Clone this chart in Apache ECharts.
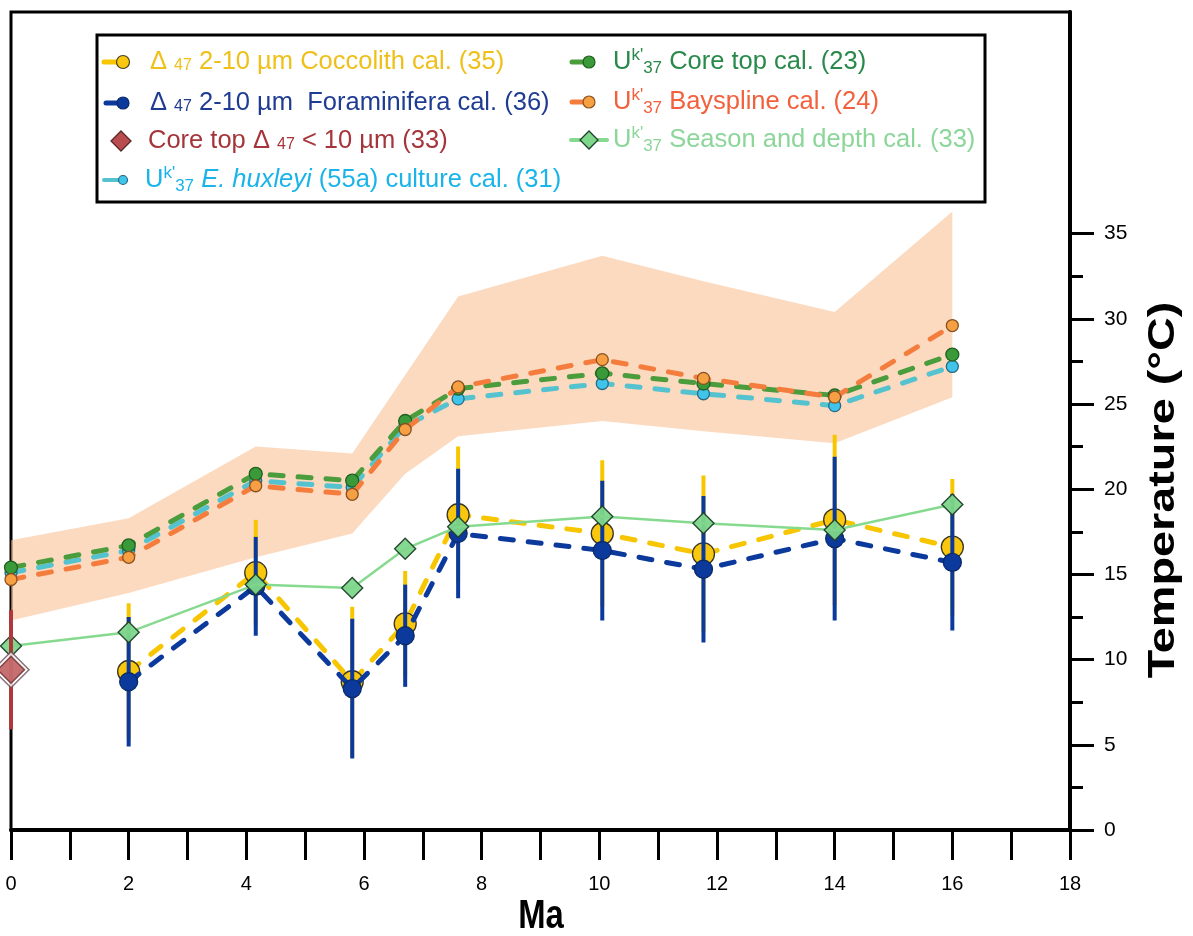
<!DOCTYPE html>
<html>
<head>
<meta charset="utf-8">
<script src="https://cdn.jsdelivr.net/npm/echarts@6/dist/echarts.min.js"></script>
<style>
  html, body { margin: 0; padding: 0; background: #fff; }
  #chart { width: 1193px; height: 936px; }
</style>
</head>
<body>
<div id="chart"></div>
<script>
// Ages (Ma) of the alkenone (Uk'37) samples
const ukAges = [0, 2, 4.16, 5.8, 6.7, 7.6, 10.05, 11.77, 14, 16];
// Uk'37 temperatures (°C) under different calibrations
const ukCoreTop = [15.4, 16.7, 20.9, 20.5, 24.0, 25.9, 26.8, 26.2, 25.5, 27.9];
const ukCulture = [15.1, 16.4, 20.5, 20.1, 23.7, 25.3, 26.2, 25.6, 24.9, 27.2];
const ukBayspline = [14.7, 16.0, 20.2, 19.7, 23.5, 26.0, 27.6, 26.5, 25.4, 29.6];
const ukSeasonDepth = [10.8, 11.6, 14.4, 14.2, 16.5, 17.8, 18.4, 18.0, 17.6, 19.1];
// Bayspline uncertainty envelope (°C)
const bandUpper = [17.0, 18.3, 22.5, 22.1, 26.7, 31.3, 33.7, 32.2, 30.4, 36.3];
const bandLower = [12.3, 13.9, 16.0, 17.4, 20.9, 23.1, 24.0, 23.4, 22.7, 25.4];

// Clumped isotope (Δ47) temperatures, 2-10 µm fraction
const d47Ages = [2, 4.16, 5.8, 6.7, 7.6, 10.05, 11.77, 14, 16];
const d47Cocco = [9.3, 15.1, 8.7, 12.1, 18.5, 17.4, 16.2, 18.2, 16.6];
const d47CoccoErr = [4.0, 3.1, 4.4, 3.1, 4.0, 4.3, 4.6, 5.0, 4.0];
const d47Foram = [8.7, 14.3, 8.3, 11.4, 17.4, 16.4, 15.3, 17.1, 15.7];
const d47ForamErr = [3.8, 2.9, 4.1, 3.0, 3.8, 4.1, 4.3, 4.8, 4.0];

// Core-top Δ47 (< 10 µm)
const coreTopAge = [0];
const coreTopD47 = [9.4];
const coreTopErr = [3.5];

// Axis ticks and labels
const xTickValues = [0, 1, 2, 3, 4, 5, 6, 7, 8, 9, 10, 11, 12, 13, 14, 15, 16, 17, 18];
const xLabelValues = [0, 2, 4, 6, 8, 10, 12, 14, 16, 18];
const yTickValues = [0, 5, 10, 15, 20, 25, 30, 35];
const yMinorTickValues = [2.5, 7.5, 12.5, 17.5, 22.5, 27.5, 32.5];

const FONT = "'Liberation Sans', Arial, sans-serif";

const C = {
  yellow: '#f7c600', yellowText: '#efc01a',
  navy: '#0c3a9c', navyText: '#1f3c93',
  red: '#b84c4f', redText: '#a5353a',
  cyan: '#55c3cf', cyanMark: '#3fc4ec', cyanText: '#1ab4e8',
  green: '#4a9c3c', greenMark: '#3a9a3a', greenText: '#28894a',
  orange: '#f47d3e', orangeMark: '#f6a043', orangeText: '#f2603c',
  lgreen: '#86da8f', lgreenMark: '#7ed68a', lgreenText: '#8cd69a',
  band: 'rgba(249, 188, 138, 0.55)'
};

const pairs = (xs, ys) => xs.map((x, i) => [x, ys[i]]);

function errorBars(xs, ys, errs, color, z) {
  return {
    type: 'custom', z: z, silent: true, clip: false,
    data: xs.map((x, i) => [x, ys[i] - errs[i], ys[i] + errs[i]]),
    encode: { x: 0, y: [1, 2] },
    renderItem: function (params, api) {
      const lo = api.coord([api.value(0), api.value(1)]);
      const hi = api.coord([api.value(0), api.value(2)]);
      return {
        type: 'line',
        shape: { x1: lo[0], y1: lo[1], x2: hi[0], y2: hi[1] },
        style: { stroke: color, lineWidth: 4 }
      };
    }
  };
}

function dashedLine(xs, ys, lineColor, markColor, markBorder, size, z) {
  return {
    type: 'line', z: z, clip: false, silent: true,
    data: pairs(xs, ys),
    symbol: 'circle', symbolSize: size,
    lineStyle: { color: lineColor, width: 5, type: [13, 15], cap: 'round' },
    itemStyle: { color: markColor, borderColor: markBorder, borderWidth: 1.3 }
  };
}

// Uncertainty envelope drawn as a single polygon
const bandSeries = {
  type: 'custom', z: 1, silent: true, clip: false,
  data: ukAges.map((x, i) => [x, bandLower[i], bandUpper[i]]),
  encode: { x: 0, y: [1, 2] },
  renderItem: function (params, api) {
    if (params.dataIndex !== 0) return null;
    const pts = [];
    for (let i = 0; i < ukAges.length; i++) pts.push(api.coord([ukAges[i], bandUpper[i]]));
    for (let i = ukAges.length - 1; i >= 0; i--) pts.push(api.coord([ukAges[i], bandLower[i]]));
    return { type: 'polygon', shape: { points: pts }, style: { fill: C.band } };
  }
};

// ---- Legend (drawn as graphics so the sub/superscripts render) ----
const LF = 25.5;
const baseRich = (color) => ({
  n: { fontSize: LF, fontFamily: FONT, fill: color, color: color, lineHeight: 30, verticalAlign: 'middle' },
  i: { fontSize: LF, fontFamily: FONT, fontStyle: 'italic', fill: color, color: color, lineHeight: 30, verticalAlign: 'middle' },
  s: { fontSize: 16, fontFamily: FONT, fill: color, color: color, lineHeight: 16, verticalAlign: 'middle', padding: [7, 0, 0, 0] },
  sup: { fontSize: 17, fontFamily: FONT, fill: color, color: color, lineHeight: 18, verticalAlign: 'top' },
  sub: { fontSize: 17, fontFamily: FONT, fill: color, color: color, lineHeight: 16, verticalAlign: 'bottom' }
});

function legendText(x, y, text, color) {
  return {
    type: 'text', x: x, y: y, z: 101,
    style: { text: text, rich: baseRich(color), textVerticalAlign: 'middle', textAlign: 'left', fill: color, font: LF + 'px ' + FONT }
  };
}
function legendLine(x1, x2, y, color, w) {
  return { type: 'line', z: 101, shape: { x1: x1, y1: y, x2: x2, y2: y }, style: { stroke: color, lineWidth: w, lineCap: 'round' } };
}
function legendDot(cx, cy, r, fill, stroke) {
  return { type: 'circle', z: 102, shape: { cx: cx, cy: cy, r: r }, style: { fill: fill, stroke: stroke, lineWidth: 1.2 } };
}
function legendDiamond(cx, cy, h, fill, stroke) {
  return { type: 'polygon', z: 102, shape: { points: [[cx, cy - h], [cx + h, cy], [cx, cy + h], [cx - h, cy]] }, style: { fill: fill, stroke: stroke, lineWidth: 1.3 } };
}

const uk = '{n|U}{sup|k\'}{sub|37}';
const legendGraphics = [
  { type: 'rect', z: 100, shape: { x: 97, y: 35, width: 888, height: 167 }, style: { fill: '#fff', stroke: '#000', lineWidth: 3 } },
  legendLine(104, 118, 62, C.yellow, 5), legendDot(123, 62, 6.5, '#f9c80e', '#4a4020'),
  legendText(150, 62, '{n|Δ }{s|47}{n| 2-10 µm Coccolith cal. (35)}', C.yellowText),
  legendLine(106, 118, 103, C.navy, 5), legendDot(123, 103, 6, C.navy, '#0a2a6a'),
  legendText(150, 103, '{n|Δ }{s|47}{n| 2-10 µm  Foraminifera cal. (36)}', C.navyText),
  legendDiamond(121, 141, 10, C.red, '#5a2a2a'),
  legendText(148, 141, '{n|Core top Δ }{s|47}{n| < 10 µm (33)}', C.redText),
  legendLine(104, 118, 180, C.cyan, 4), legendDot(123, 180, 4.5, C.cyanMark, '#2a6a80'),
  legendText(145, 180, uk + '{n| }{i|E. huxleyi}{n| (55a) culture cal. (31)}', C.cyanText),
  legendLine(572, 584, 62, C.green, 5), legendDot(589, 62, 6, C.greenMark, '#1f5f1f'),
  legendText(613, 62, uk + '{n| Core top cal. (23)}', C.greenText),
  legendLine(572, 584, 102, C.orange, 5), legendDot(589, 102, 6, C.orangeMark, '#8a5020'),
  legendText(613, 102, uk + '{n| Bayspline cal. (24)}', C.orangeText),
  legendLine(571, 607, 140, C.lgreen, 4), legendDiamond(589, 140, 9, C.lgreenMark, '#1f3f2a'),
  legendText(613, 140, uk + '{n| Season and depth cal. (33)}', C.lgreenText)
];

const axisTitles = [
  { type: 'text', x: 541, y: 917, z: 50, scaleX: 0.82,
    style: { text: 'Ma', font: 'bold 40px ' + FONT, fill: '#000', textAlign: 'center', textVerticalAlign: 'middle' } },
  { type: 'text', x: 1164, y: 490, z: 50, rotation: Math.PI / 2, scaleX: 1.3,
    style: { text: 'Temperature (°C)', font: 'bold 36px ' + FONT, fill: '#000', textAlign: 'center', textVerticalAlign: 'middle' } }
];

const gridBox = { left: 11, right: 123, top: 12, bottom: 106 };

const chart = echarts.init(document.getElementById('chart'), null, { renderer: 'canvas' });

const option = {
  animation: false,
  backgroundColor: '#fff',
  grid: [
    Object.assign({ show: true, borderColor: '#000', borderWidth: 3, backgroundColor: 'transparent' }, gridBox),
    // overlay grid carrying the short minor ticks of the temperature axis
    Object.assign({ show: false }, gridBox)
  ],
  xAxis: [
    {
      type: 'value', min: 0, max: 18, interval: 1,
      axisLine: { show: true, onZero: false, lineStyle: { color: '#000', width: 4 } },
      axisTick: { show: true, inside: false, length: 30, customValues: xTickValues, lineStyle: { color: '#000', width: 3 } },
      axisLabel: { show: true, customValues: xLabelValues, margin: 44, fontSize: 20, fontFamily: FONT, color: '#000' },
      splitLine: { show: false }
    },
    { type: 'value', gridIndex: 1, min: 0, max: 18, show: false }
  ],
  yAxis: [
    {
      type: 'value', position: 'right', min: 0, max: 48, interval: 5,
      axisLine: { show: true, onZero: false, lineStyle: { color: '#000', width: 4 } },
      axisTick: { show: true, inside: false, length: 24, customValues: yTickValues, lineStyle: { color: '#000', width: 3 } },
      axisLabel: { show: true, customValues: yTickValues, margin: 34, fontSize: 21, fontFamily: FONT, color: '#000' },
      splitLine: { show: false }
    },
    {
      type: 'value', gridIndex: 1, position: 'right', min: 0, max: 48, interval: 5,
      axisLine: { show: false, onZero: false },
      axisTick: { show: true, inside: false, length: 13, customValues: yMinorTickValues, lineStyle: { color: '#000', width: 3 } },
      axisLabel: { show: false },
      splitLine: { show: false }
    }
  ],
  graphic: legendGraphics.concat(axisTitles),
  series: [
    bandSeries,
    dashedLine(ukAges, ukCulture, C.cyan, C.cyanMark, '#2a6a80', 12, 3),
    dashedLine(ukAges, ukCoreTop, C.green, C.greenMark, '#1f5f1f', 13, 4),
    dashedLine(ukAges, ukBayspline, C.orange, C.orangeMark, '#8a5020', 12, 5),
    errorBars(d47Ages, d47Cocco, d47CoccoErr, C.yellow, 6),
    dashedLine(d47Ages, d47Cocco, C.yellow, '#f9c80e', '#3a3520', 22, 7),
    errorBars(d47Ages, d47Foram, d47ForamErr, C.navy, 8),
    dashedLine(d47Ages, d47Foram, C.navy, C.navy, '#0a2a6a', 18, 9),
    {
      type: 'line', z: 10, clip: false, silent: true,
      data: pairs(ukAges, ukSeasonDepth),
      symbol: 'diamond', symbolSize: 21,
      lineStyle: { color: C.lgreen, width: 2.5 },
      itemStyle: { color: C.lgreenMark, borderColor: '#1f3f2a', borderWidth: 1.4, opacity: 0.95 }
    },
    errorBars(coreTopAge, coreTopD47, coreTopErr, '#b0383c', 11),
    {
      type: 'scatter', z: 12, clip: false, silent: true,
      data: pairs(coreTopAge, coreTopD47),
      symbol: 'diamond', symbolSize: 36,
      itemStyle: { color: '#ffffff', borderColor: '#6a4a55', borderWidth: 1.5 }
    },
    {
      type: 'scatter', z: 13, clip: false, silent: true,
      data: pairs(coreTopAge, coreTopD47),
      symbol: 'diamond', symbolSize: 27,
      itemStyle: { color: C.red, borderColor: '#6a2a2a', borderWidth: 1.5 }
    }
  ]
};

chart.setOption(option);
</script>
</body>
</html>
